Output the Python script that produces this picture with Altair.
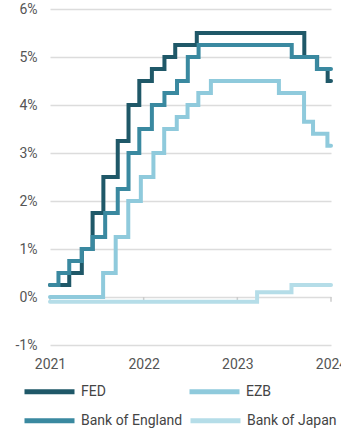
import altair as alt
import pandas as pd

# ---- data (dates in the chart's displayed time frame) ----
banks_row1 = ["FED", "EZB"]
colors_row1 = ["#1f5868", "#8fcadc"]
banks_row2 = ["Bank of England", "Bank of Japan"]
colors_row2 = ["#3a89a0", "#b5dde8"]

fed_dates = ["2021-01-01", "2021-03-17", "2021-05-05", "2021-06-16", "2021-07-28",
             "2021-09-22", "2021-11-03", "2021-12-15", "2022-02-02", "2022-03-23",
             "2022-05-04", "2022-07-27", "2023-09-19", "2023-11-08", "2023-12-19",
             "2024-01-01"]
fed_vals = [0.25, 0.5, 1.0, 1.75, 2.5, 3.25, 4.0, 4.5, 4.75, 5.0, 5.25, 5.5,
            5.0, 4.75, 4.5, 4.5]

ezb_dates = ["2021-01-01", "2021-07-27", "2021-09-14", "2021-11-02", "2021-12-21",
             "2022-02-08", "2022-03-22", "2022-05-10", "2022-06-21", "2022-08-02",
             "2022-09-20", "2023-06-12", "2023-09-18", "2023-10-23", "2023-12-18",
             "2024-01-01"]
ezb_vals = [0.0, 0.5, 1.25, 2.0, 2.5, 3.0, 3.5, 3.75, 4.0, 4.25, 4.5, 4.25,
            3.65, 3.4, 3.15, 3.15]

boe_dates = ["2021-01-01", "2021-02-03", "2021-03-17", "2021-05-05", "2021-06-16",
             "2021-08-04", "2021-09-22", "2021-11-03", "2021-12-15", "2022-02-02",
             "2022-03-23", "2022-05-11", "2022-06-22", "2022-08-03", "2023-08-01",
             "2023-11-07", "2024-01-01"]
boe_vals = [0.25, 0.5, 0.75, 1.0, 1.25, 1.75, 2.25, 3.0, 3.5, 4.0, 4.25, 4.5,
            5.0, 5.25, 5.0, 4.75, 4.75]

boj_dates = ["2021-01-01", "2023-03-19", "2023-07-31", "2024-01-01"]
boj_vals = [-0.1, 0.1, 0.25, 0.25]

y_ticks = [-1, 0, 1, 2, 3, 4, 5, 6]
x_tick_years = [2021, 2022, 2023, 2024]


def frame(pairs, field):
    parts = [pd.DataFrame({"date": d, "rate": v, field: n}) for n, (d, v) in pairs]
    return pd.concat(parts, ignore_index=True)


df_a = frame([("EZB", (ezb_dates, ezb_vals)), ("FED", (fed_dates, fed_vals))], "bank")
df_b = frame([("Bank of Japan", (boj_dates, boj_vals)),
              ("Bank of England", (boe_dates, boe_vals))], "centralbank")

ticks_df = pd.DataFrame({"date": [f"{y}-01-01" for y in x_tick_years]})

x_domain = [alt.DateTime(year=x_tick_years[0], month=1, date=1, utc=True),
            alt.DateTime(year=x_tick_years[-1], month=1, date=1, utc=True)]
x_values = [alt.DateTime(year=y, month=1, date=1, utc=True) for y in x_tick_years]

x_scale = alt.Scale(type="utc", domain=x_domain)
y_scale = alt.Scale(domain=[-1, 6], nice=False, zero=False)

font = "Roboto"

x_axis = alt.Axis(values=x_values, labelExpr="utcFormat(datum.value, '%Y')",
                  grid=False, domain=False, ticks=False, labelPadding=12,
                  labelFlush=False, labelOverlap=False, labelBound=False,
                  labelFontSize=14, labelColor="#555555", labelFont=font)
y_axis = alt.Axis(values=y_ticks, labelExpr="datum.value + '%'",
                  grid=True, gridColor="#dcdcdc", gridWidth=1.5,
                  domain=False, ticks=False, labelPadding=13,
                  labelFontSize=14, labelColor="#555555", labelFont=font)

x_enc = alt.X("date:T", scale=x_scale, title=None, axis=x_axis)
y_enc = alt.Y("rate:Q", scale=y_scale, title=None, axis=y_axis)

legend_common = dict(
    title=None, orient="none", direction="horizontal",
    symbolType="stroke", symbolSize=2500, symbolStrokeWidth=5,
    labelFontSize=14, labelFont=font, labelColor="#444444",
    labelOffset=4, padding=0, legendX=-28,
)

line_style = dict(interpolate="step-after", strokeWidth=4, strokeCap="round",
                  strokeJoin="miter")

lines_a = alt.Chart(df_a).mark_line(**line_style).encode(
    x=x_enc, y=y_enc,
    color=alt.Color("bank:N", sort=banks_row1,
                    scale=alt.Scale(domain=banks_row1, range=colors_row1),
                    legend=alt.Legend(legendY=355, columnPadding=73, **legend_common)),
    order=alt.Order("date:T"),
)

lines_b = alt.Chart(df_b).mark_line(**line_style).encode(
    x=x_enc, y=y_enc,
    stroke=alt.Stroke("centralbank:N", sort=banks_row2,
                      scale=alt.Scale(domain=banks_row2, range=colors_row2),
                      legend=alt.Legend(legendY=384, columnPadding=-3, **legend_common)),
    order=alt.Order("date:T"),
)

tick_marks = alt.Chart(ticks_df).mark_rule(color="#cccccc", strokeWidth=1.5).encode(
    x=alt.X("date:T", scale=x_scale),
    y=alt.datum(0),
    y2=alt.datum(-0.1),
)

chart = alt.layer(tick_marks, lines_a, lines_b).properties(
    width=281, height=336,
    autosize=alt.AutoSizeParams(type="none"),
    padding={"left": 50, "top": 9, "right": 10, "bottom": 85},
).configure_view(stroke=None)

chart.save("out.html", embed_options={"renderer": "svg", "actions": False})
